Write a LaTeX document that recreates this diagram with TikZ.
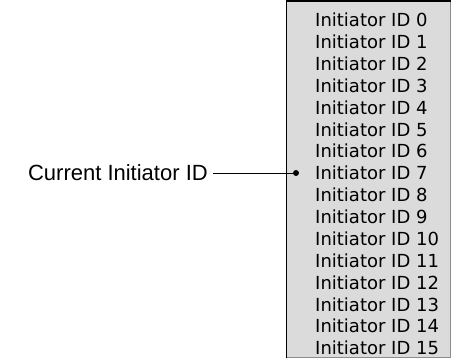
\documentclass[tikz,border=0pt]{standalone}
\usepackage{fontspec}
\setmainfont{Liberation Sans}
\newfontfamily\listfont{DejaVu Sans}
\begin{document}
\begin{tikzpicture}[x=1pt,y=-1pt,
  listitem/.style={anchor=west,inner sep=0pt,font=\listfont\fontsize{18}{20}\selectfont},
  callout/.style={anchor=east,inner sep=0pt,font=\fontsize{22}{26}\selectfont}]
  \useasboundingbox (0,0) rectangle (453,360);
  % list box
  \fill[black!14] (286,1) rectangle (451,358);
  \draw[black!45,line width=1pt] (286,357.5) -- (450.5,357.5) -- (450.5,1);
  \draw[black,line width=1.6pt] (286.5,358) -- (286.5,1.2) -- (451,1.2);
  % entries
  \foreach \k in {0,...,15}
    \node[listitem] (id\k) at (315,{20+21.87*\k}) {Initiator ID \k};
  % callout to the current entry
  \node[callout] (lbl) at (208,173) {Current Initiator ID};
  \node[circle,fill=black,inner sep=0pt,minimum size=6pt] (dot) at (296,173) {};
  \draw[line width=1pt] ([xshift=5pt]lbl.east) -- (dot.center);
\end{tikzpicture}
\end{document}
